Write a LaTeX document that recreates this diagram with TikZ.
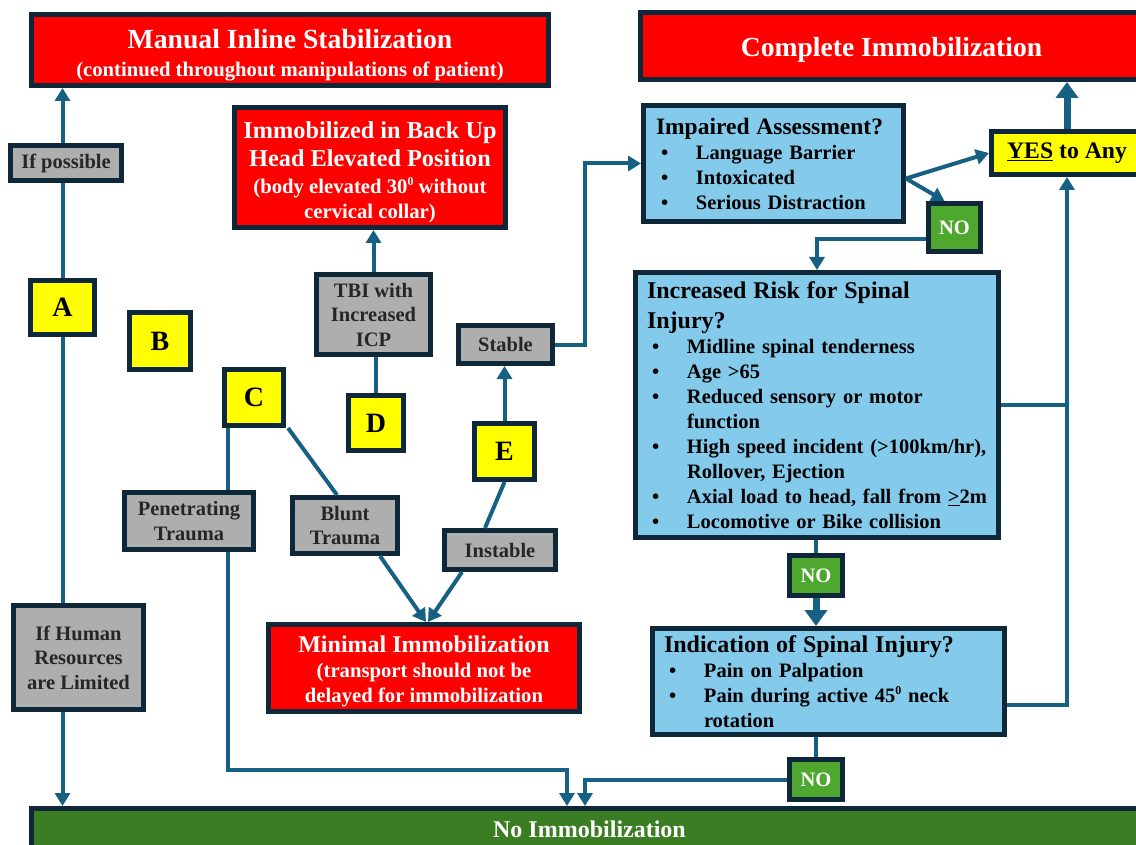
\documentclass[tikz,border=0pt]{standalone}
\usepackage{fontspec}
\setmainfont{Liberation Serif}
\usetikzlibrary{arrows.meta}
\usetikzlibrary{positioning}
\definecolor{custom-red}{RGB}{255, 0, 0}
\definecolor{custom-navy}{RGB}{14, 40, 58}
\definecolor{custom-blue}{RGB}{22, 96, 132}
\definecolor{custom-grey}{RGB}{174, 174, 174}
\definecolor{custom-yellow}{RGB}{255, 255, 0}
\definecolor{custom-sky}{RGB}{131, 202, 235}
\definecolor{custom-green}{RGB}{78, 167, 46}
\definecolor{custom-darkgreen}{RGB}{59, 125, 35}
\newcommand{\sizeat}[2]{\fontsize{#1}{#2}\selectfont}
\newcommand{\bitem}[1]{\mbox{\hspace*{5pt}\makebox[35pt][l]{\textbullet}#1}}
\newcommand{\degsup}[1]{{\sizeat{12}{12}\raisebox{8pt}{#1}}}

\begin{document}
\begin{tikzpicture}[x=1pt, y=-1pt,
    panel/.style={draw=custom-navy, line width=5pt, align=center, inner sep=0pt},
    redbox/.style={panel, fill=custom-red, text=white, font=\bfseries\sizeat{20.7}{25}},
    greybox/.style={panel, fill=custom-grey, text=black!85, font=\bfseries\sizeat{20.5}{24.5}},
    letterbox/.style={panel, fill=custom-yellow, font=\bfseries\sizeat{28}{30}},
    bluebox/.style={panel, fill=custom-sky, align=left, font=\bfseries\sizeat{20.5}{25}},
    nobox/.style={panel, fill=custom-green, text=white, font=\bfseries\sizeat{20.5}{24}, minimum width=53pt, minimum height=40pt},
    conn/.style={draw=custom-blue, line width=4pt},
    arr/.style={conn, -{Triangle[length=13pt,width=15pt]}},
    bigarr/.style={draw=custom-blue, line width=7pt, -{Triangle[length=16pt,width=22pt]}}]
\useasboundingbox (0,0) rectangle (1136,845);

% outcomes
\node[redbox, minimum width=517pt, minimum height=71pt] (manual) at (290,50)
  {{\sizeat{27.7}{28}\rule{0pt}{30pt}Manual Inline Stabilization}\\[3pt](continued throughout manipulations of patient)};
\node[redbox, minimum width=502pt, minimum height=67pt] (complete) at (891.5,46)
  {\sizeat{27.6}{30}\rule{0pt}{27pt}Complete Immobilization};
\node[redbox, minimum width=271pt, minimum height=120pt] (backup) at (370,167.5)
  {{\sizeat{24.3}{28}\rule{0pt}{26pt}Immobilized in Back Up}\\[3pt]{\sizeat{24.3}{27}Head Elevated Position}\\[2pt](body elevated 30\degsup{0} without\\cervical collar)};
\node[redbox, minimum width=311pt, minimum height=87pt] (minimal) at (424,668)
  {{\sizeat{24}{26}\rule{0pt}{23pt}Minimal Immobilization}\\(transport should not be\\delayed for immobilization};
\node[panel, fill=custom-darkgreen, text=white, font=\bfseries\sizeat{24}{26}, minimum width=1116pt, minimum height=41pt] (noimm) at (589.5,829) {No Immobilization};

% conditions
\node[greybox, minimum width=111pt, minimum height=35pt] (ifpos) at (66,163) {If possible};
\node[greybox, minimum width=130pt, minimum height=104pt] (human) at (78.5,657.5) {If Human\\Resources\\are Limited};
\node[greybox, minimum width=114pt, minimum height=80pt] (tbi) at (373.5,314.5) {TBI with\\Increased\\ICP};
\node[greybox, minimum width=94pt, minimum height=38pt] (stable) at (505.5,344.5) {Stable};
\node[greybox, minimum width=111pt, minimum height=39pt] (instable) at (500,550) {Instable};
\node[greybox, minimum width=129pt, minimum height=57pt] (pen) at (189,521) {Penetrating\\Trauma};
\node[greybox, minimum width=105pt, minimum height=56pt] (blunt) at (345,525.5) {Blunt\\Trauma};

% letters
\node[letterbox, minimum width=64pt, minimum height=54pt] (A) at (62.5,307.5) {A};
\node[letterbox, minimum width=61pt, minimum height=57pt] (B) at (160,341) {B};
\node[letterbox, minimum width=59pt, minimum height=56pt] (C) at (254,397.5) {C};
\node[letterbox, minimum width=55pt, minimum height=55pt] (D) at (376,423) {D};
\node[letterbox, minimum width=60pt, minimum height=56pt] (E) at (504.5,451.5) {E};

% checks
\node[bluebox, minimum width=260pt, minimum height=116pt, text width=235pt] (impaired) at (773.5,163.5)
  {\mbox{\sizeat{23.5}{25}Impaired Assessment?}\\\bitem{Language Barrier}\\\bitem{Intoxicated}\\\bitem{Serious Distraction}};
\node[bluebox, minimum width=363pt, minimum height=265pt, text width=340pt] (increased) at (817,405)
  {\mbox{\sizeat{24}{25}Increased Risk for Spinal}\\[5pt]\mbox{\sizeat{24}{25}Injury?}\\
   \bitem{Midline spinal tenderness}\\\bitem{Age >65}\\\bitem{Reduced sensory or motor}\\
   \mbox{\hspace*{40pt}function}\\\bitem{High speed incident (>100km/hr),}\\
   \mbox{\hspace*{40pt}Rollover, Ejection}\\\bitem{Axial load to head, fall from \underline{>}2m}\\
   \bitem{Locomotive or Bike collision}};
\node[bluebox, minimum width=352pt, minimum height=106pt, text width=329pt] (indication) at (828.5,681.5)
  {\mbox{\sizeat{24}{25}Indication of Spinal Injury?}\\\bitem{Pain on Palpation}\\
   \bitem{Pain during active 45\degsup{0} neck}\\\mbox{\hspace*{40pt}rotation}};
\node[panel, fill=custom-yellow, font=\bfseries\sizeat{23.7}{26}, minimum width=151pt, minimum height=43pt] (yes) at (1067,153) {\underline{YES} to Any};
\node[nobox, minimum width=52pt, minimum height=48pt] (no1) at (954.5,227.5) {NO};
\node[nobox] (no2) at (816,575.5) {NO};
\node[nobox] (no3) at (816,779.5) {NO};

\coordinate (penturn) at (228,770);

% connectors
\draw[conn] (A.north) -- (A.north |- ifpos.south);
\draw[arr] (A.north |- ifpos.north) -- (A.north |- manual.south);
\draw[conn] (A.south) -- (A.south |- human.north);
\draw[arr] (A.south |- human.south) -- (A.south |- noimm.north);
\draw[arr] (tbi.north) -- (tbi.north |- backup.south);
\draw[conn] (D.north) -- (D.north |- tbi.south);
\draw[arr] (E.north) -- (E.north |- stable.south);
\draw[conn] (E.south) -- ([xshift=-15pt]instable.north);
\draw[arr] (stable.east) -- ++(30pt,0) |- (impaired.west);
\draw[conn] (penturn |- C.south) -- (penturn |- pen.north);
\draw[arr] (penturn |- pen.south) -- (penturn) -| ([xshift=-22.5pt]noimm.north);
\draw[conn] ([xshift=2pt]C.south east) -- ([xshift=-8pt]blunt.north);
\draw[arr] ([xshift=35pt]blunt.south) -- ([xshift=2pt]minimal.north);
\draw[arr] ([xshift=-38pt]instable.south) -- ([xshift=4pt]minimal.north);
\draw[arr] ([yshift=-15pt]impaired.east) -- (yes.west);
\draw[arr] ([yshift=-15pt]impaired.east) -- ([xshift=-10pt]no1.north);
\draw[arr] ([yshift=-12pt]no1.west) -| (increased.north);
\draw[bigarr] (yes.north) -- (yes.north |- complete.south);
\draw[conn] (increased.east) -- (increased.east -| yes.south);
\draw[arr] ([yshift=-23pt]indication.east) -| (yes.south);
\draw[conn] (no2.north |- increased.south) -- (no2.north);
\draw[bigarr] (no2.south) -- (no2.south |- indication.north);
\draw[conn] (no3.north |- indication.south) -- (no3.north);
\draw[arr] (no3.west) -| ([xshift=-4.5pt]noimm.north);
\end{tikzpicture}
\end{document}
